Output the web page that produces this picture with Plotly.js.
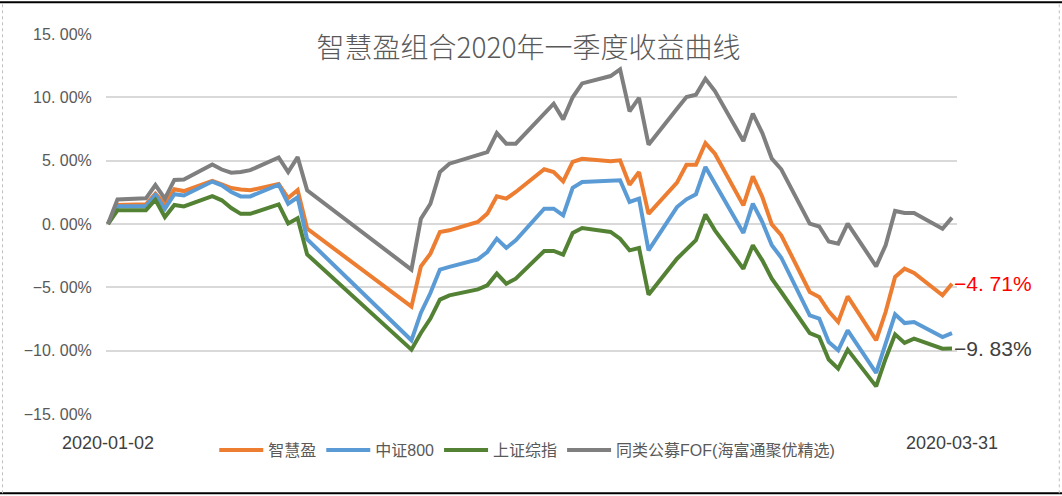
<!DOCTYPE html>
<html>
<head>
<meta charset="utf-8">
<script src="https://cdn.plot.ly/plotly-3.0.1.min.js"></script>
<style>
  html, body { margin: 0; padding: 0; background: #ffffff; }
  #chart { width: 1062px; height: 496px; }
</style>
</head>
<body>
<div id="chart"></div>
<script>
// Trading days of 2020 Q1
const dates = [
  '2020-01-02','2020-01-03','2020-01-06','2020-01-07','2020-01-08','2020-01-09','2020-01-10',
  '2020-01-13','2020-01-14','2020-01-15','2020-01-16','2020-01-17',
  '2020-01-20','2020-01-21','2020-01-22','2020-01-23',
  '2020-02-03','2020-02-04','2020-02-05','2020-02-06','2020-02-07',
  '2020-02-10','2020-02-11','2020-02-12','2020-02-13','2020-02-14',
  '2020-02-17','2020-02-18','2020-02-19','2020-02-20','2020-02-21',
  '2020-02-24','2020-02-25','2020-02-26','2020-02-27','2020-02-28',
  '2020-03-02','2020-03-03','2020-03-04','2020-03-05','2020-03-06',
  '2020-03-09','2020-03-10','2020-03-11','2020-03-12','2020-03-13',
  '2020-03-16','2020-03-17','2020-03-18','2020-03-19','2020-03-20',
  '2020-03-23','2020-03-24','2020-03-25','2020-03-26','2020-03-27',
  '2020-03-30','2020-03-31'
];

const seriesNames = ['智慧盈', '中证800', '上证综指', '同类公募FOF(海富通聚优精选)'];

// 智慧盈 (%)
const zhihuiying = [
  0, 1.5, 1.55, 2.4, 1.6, 2.75, 2.6, 3.4, 3.13, 2.84, 2.72, 2.66, 3.15, 2.05, 2.68, -0.36,
  -6.52, -3.34, -2.34, -0.63, -0.5, 0.16, 0.82, 2.18, 2.0, 2.53, 4.32, 4.1, 3.37, 4.9, 5.15, 4.95, 5.03, 3.1, 4.1, 0.8,
  3.26, 4.68, 4.68, 6.39, 5.55, 1.47, 3.76, 2.13, -0.03, -0.89, -5.37, -5.76, -6.9, -7.74, -5.71, -9.18, -6.95, -4.18, -3.53, -3.87, -5.63, -4.71
];
// 中证800 (%)
const csi800 = [
  0, 1.4, 1.4, 2.3, 1.2, 2.35, 2.25, 3.35, 3.05, 2.53, 2.18, 2.18, 3.1, 1.6, 2.1, -1.2,
  -9.18, -7.0, -5.45, -3.6, -3.39, -2.79, -2.21, -1.16, -1.89, -1.29, 1.21, 1.21, 0.68, 2.85, 3.32, 3.37, 3.45, 1.74, 2.0, -2.08,
  1.34, 1.95, 2.35, 4.5, 3.18, -0.71, 1.61, 0.16, -1.68, -2.66, -7.21, -7.47, -9.32, -9.97, -8.39, -11.76, -9.45, -7.13, -7.82, -7.74, -8.92, -8.61
];
// 上证综指 (%)
const shComposite = [
  0, 1.08, 1.08, 1.92, 0.55, 1.5, 1.39, 2.2, 1.87, 1.26, 0.8, 0.8, 1.55, 0.04, 0.45, -2.4,
  -9.92, -8.6, -7.47, -5.97, -5.63, -5.16, -4.84, -3.92, -4.71, -4.32, -2.13, -2.13, -2.42, -0.7, -0.32, -0.63, -1.16, -2.08, -1.89, -5.58,
  -2.74, -1.95, -1.27, 0.75, -0.5, -3.53, -1.68, -2.87, -4.32, -5.37, -8.61, -8.92, -10.7, -11.42, -9.92, -12.82, -10.63, -8.71, -9.39, -9.05, -9.84, -9.83
];
// 同类公募FOF (%)
const peerFof = [
  0, 1.93, 2.03, 3.08, 2.0, 3.48, 3.52, 4.7, 4.3, 4.05, 4.1, 4.25, 5.25, 4.1, 5.28, 2.66,
  -3.6, 0.42, 1.6, 4.1, 4.76, 5.47, 5.68, 7.18, 6.34, 6.34, 8.76, 9.5, 8.26, 10.0, 11.1, 11.68, 12.21, 8.89, 9.95, 6.26,
  9.1, 10.03, 10.2, 11.47, 10.5, 6.55, 8.71, 7.18, 5.16, 4.32, 0.03, -0.2, -1.38, -1.55, 0.03, -3.34, -1.68, 1.03, 0.87, 0.87, -0.37, 0.5
];

const yTickVals = [-15, -10, -5, 0, 5, 10, 15];
const yTickText = ['\u221215. 00%', '\u221210. 00%', '\u22125. 00%', '0. 00%', '5. 00%', '10. 00%', '15. 00%'];
const xTickVals = ['2020-01-02', '2020-03-31'];
const xTickText = ['2020-01-02', '2020-03-31'];
const endLabels = ['\u22124. 71%', '\u22129. 83%'];
const endValues = [-4.71, -9.83];

const colors = ['#ED7D31', '#5B9BD5', '#548235', '#7F7F7F'];
const allSeries = [zhihuiying, csi800, shComposite, peerFof];

const FONT = 'Liberation Sans, Noto Sans CJK SC, sans-serif';

const traces = allSeries.map((ys, i) => ({
  type: 'scatter',
  mode: 'lines',
  name: seriesNames[i],
  x: dates,
  y: ys,
  line: { color: colors[i], width: 4 },
  hoverinfo: 'skip'
}));

const layout = {
  width: 1062,
  height: 496,
  paper_bgcolor: '#ffffff',
  plot_bgcolor: '#ffffff',
  margin: { l: 106, r: 105, t: 34, b: 82 },
  font: { family: FONT, color: '#595959' },
  title: {
    text: '智慧盈组合2020年一季度收益曲线',
    font: { family: 'Noto Sans CJK SC, sans-serif', size: 28, color: '#595959', weight: 300 },
    x: 0.4965, xref: 'paper', xanchor: 'center',
    y: 1 - 48 / 496, yref: 'container', yanchor: 'middle'
  },
  xaxis: {
    type: 'date',
    range: ['2020-01-01 19:00', '2020-03-31 12:40'],
    tickmode: 'array',
    tickvals: xTickVals,
    ticktext: xTickText,
    showgrid: false,
    zeroline: false,
    showline: false,
    ticks: 'outside',
    ticklen: 12,
    tickcolor: 'rgba(0,0,0,0)',
    tickfont: { family: FONT, size: 18, color: '#404040' },
    fixedrange: true
  },
  yaxis: {
    range: [-15, 15],
    tickmode: 'array',
    tickvals: yTickVals,
    ticktext: yTickText,
    showgrid: true,
    gridcolor: '#D9D9D9',
    gridwidth: 2,
    zeroline: false,
    showline: false,
    ticks: 'outside',
    ticklen: 10,
    tickcolor: 'rgba(0,0,0,0)',
    tickfont: { family: FONT, size: 16, color: '#595959' },
    fixedrange: true
  },
  showlegend: true,
  legend: {
    orientation: 'h',
    x: 0.495, xanchor: 'center',
    y: -0.05, yanchor: 'top',
    itemwidth: 44,
    font: { family: FONT, size: 16, color: '#595959' },
    itemclick: false, itemdoubleclick: false,
    bgcolor: 'rgba(0,0,0,0)'
  },
  annotations: endValues.map((v, i) => ({
    x: '2020-03-31', y: v, xref: 'x', yref: 'y',
    text: endLabels[i],
    showarrow: false,
    xanchor: 'left', yanchor: 'middle',
    xshift: 0,
    font: { family: FONT, size: 21, color: i === 0 ? '#FF0000' : '#404040' }
  })),
  shapes: [
    { type: 'line', xref: 'paper', yref: 'paper', x0: -0.125, x1: 1.124, y0: 1.0834, y1: 1.0834, line: { color: '#000000', width: 2 } },
    { type: 'line', xref: 'paper', yref: 'paper', x0: -0.125, x1: 1.124, y0: -0.2087, y1: -0.2087, line: { color: '#000000', width: 2 } },
    { type: 'line', xref: 'paper', yref: 'paper', x0: -0.1216, x1: -0.1216, y0: -0.2087, y1: 1.0834, line: { color: '#BFBFBF', width: 1, dash: 'dot' } },
    { type: 'line', xref: 'paper', yref: 'paper', x0: 1.1202, x1: 1.1202, y0: -0.2087, y1: 1.0834, line: { color: '#BFBFBF', width: 1, dash: 'dot' } }
  ]
};

Plotly.newPlot('chart', traces, layout, { displayModeBar: false, staticPlot: true });
</script>
</body>
</html>
